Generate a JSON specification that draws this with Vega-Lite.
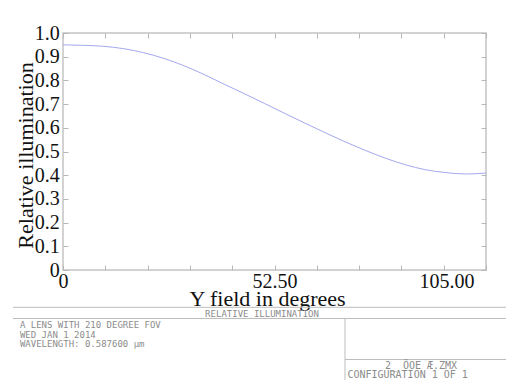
{
  "$schema": "https://vega.github.io/schema/vega-lite/v6.json",
  "autosize": "none",
  "width": 423,
  "height": 237,
  "padding": {"left": 63, "top": 33, "right": 20, "bottom": 110},
  "background": "white",
  "config": {"view": {"stroke": "#c4c4c4", "strokeWidth": 1.5}},
  "datasets": {
    "curve": [
      {"deg": 0, "ri": 0.950}, {"deg": 5, "ri": 0.948}, {"deg": 10, "ri": 0.944}, {"deg": 15, "ri": 0.934},
      {"deg": 20, "ri": 0.917}, {"deg": 25, "ri": 0.893}, {"deg": 30, "ri": 0.862}, {"deg": 35, "ri": 0.825},
      {"deg": 40, "ri": 0.784}, {"deg": 45, "ri": 0.744}, {"deg": 50, "ri": 0.703}, {"deg": 55, "ri": 0.661},
      {"deg": 60, "ri": 0.620}, {"deg": 65, "ri": 0.580}, {"deg": 70, "ri": 0.541}, {"deg": 75, "ri": 0.505},
      {"deg": 80, "ri": 0.472}, {"deg": 85, "ri": 0.444}, {"deg": 90, "ri": 0.423}, {"deg": 95, "ri": 0.411},
      {"deg": 100, "ri": 0.405}, {"deg": 105, "ri": 0.409}
    ],
    "frame": [
      {"x": -12.4, "x2": 112, "y": -0.1574, "y2": -0.1574},
      {"x": -12.4, "x2": 112, "y": -0.2046, "y2": -0.2046},
      {"x": 70.0, "x2": 70.0, "y": -0.2046, "y2": -0.48},
      {"x": 70.0, "x2": 112, "y": -0.3776, "y2": -0.3776}
    ],
    "centerText": [
      {"label": "RELATIVE ILLUMINATION", "x": 49.4, "y": -0.187}
    ],
    "leftText": [
      {"label": "A LENS WITH 210 DEGREE FOV", "x": -10.7, "y": -0.2321},
      {"label": "WED JAN 1 2014", "x": -10.7, "y": -0.2722},
      {"label": "WAVELENGTH: 0.587600 µm", "x": -10.7, "y": -0.3122}
    ],
    "configText": [
      {"label": "2_   ÖOE   Æ.ZMX", "x": 79.9, "y": -0.403},
      {"label": "CONFIGURATION 1 OF 1", "x": 70.6, "y": -0.445}
    ]
  },
  "layer": [
    {
      "data": {"name": "curve"},
      "mark": {"type": "line", "interpolate": "monotone", "color": "#a3a8ee", "strokeWidth": 1},
      "encoding": {
        "x": {
          "field": "deg", "type": "quantitative",
          "scale": {"domain": [0, 105], "nice": false, "zero": false},
          "axis": {
            "orient": "bottom",
            "values": [0, 10.5, 21, 31.5, 42, 52.5, 63, 73.5, 84, 94.5, 105],
            "labelExpr": "datum.value == 0 ? '0' : datum.value == 52.5 ? '52.50' : datum.value == 105 ? '105.00' : ''",
            "labelFont": "Liberation Serif", "labelFontSize": 20, "labelColor": "#111111",
            "labelAlign": {"condition": {"test": "datum.value == 105", "value": "right"}, "value": "center"},
            "labelOffset": {"condition": {"test": "datum.value == 105", "value": -12}, "value": 0},
            "labelPadding": 6, "labelBaseline": "top", "labelFlush": false, "labelOverlap": false,
            "tickSize": -5, "tickColor": "#b8b8b8", "domain": false, "grid": false,
            "title": "Y field in degrees", "titleFont": "Liberation Serif", "titleFontSize": 22,
            "titleFontWeight": "normal", "titleColor": "#111111",
            "titleX": 204, "titleY": 35.5, "titleBaseline": "alphabetic", "titleAlign": "center"
          }
        },
        "y": {
          "field": "ri", "type": "quantitative",
          "scale": {"domain": [0, 1], "nice": false, "zero": false},
          "axis": {
            "orient": "left",
            "values": [0, 0.1, 0.2, 0.3, 0.4, 0.5, 0.6, 0.7, 0.8, 0.9, 1.0],
            "labelExpr": "datum.value == 0 ? '0' : format(datum.value, '.1f')",
            "labelFont": "Liberation Serif", "labelFontSize": 20, "labelColor": "#111111",
            "labelPadding": 8.7, "labelFlush": false, "labelOverlap": false, "labelBaseline": "middle",
            "tickSize": -5, "tickColor": "#b8b8b8", "domain": false, "grid": false,
            "title": "Relative illumination", "titleFont": "Liberation Serif", "titleFontSize": 22,
            "titleFontWeight": "normal", "titleColor": "#111111", "titleAngle": -90,
            "titleX": -31, "titleY": 122, "titleBaseline": "alphabetic", "titleAlign": "center"
          }
        }
      }
    },
    {
      "data": {"name": "frame"},
      "mark": {"type": "rule", "color": "#bdbdbd", "strokeWidth": 1},
      "encoding": {
        "x": {
          "field": "x", "type": "quantitative",
          "scale": {"domain": [0, 105], "nice": false, "zero": false},
          "axis": {
            "orient": "top", "values": [0, 10.5, 21, 31.5, 42, 52.5, 63, 73.5, 84, 94.5, 105],
            "labels": false, "tickSize": -5, "tickColor": "#b8b8b8", "domain": false, "grid": false, "title": null
          }
        },
        "x2": {"field": "x2"},
        "y": {
          "field": "y", "type": "quantitative",
          "scale": {"domain": [0, 1], "nice": false, "zero": false},
          "axis": {
            "orient": "right", "values": [0, 0.1, 0.2, 0.3, 0.4, 0.5, 0.6, 0.7, 0.8, 0.9, 1.0],
            "labels": false, "tickSize": -5, "tickColor": "#b8b8b8", "domain": false, "grid": false, "title": null
          }
        },
        "y2": {"field": "y2"}
      }
    },
    {
      "data": {"name": "centerText"},
      "mark": {"type": "text", "font": "DejaVu Sans Mono", "fontSize": 9, "color": "#8c8c8c", "align": "center", "baseline": "middle"},
      "encoding": {
        "x": {"field": "x", "type": "quantitative", "axis": null},
        "y": {"field": "y", "type": "quantitative", "axis": null},
        "text": {"field": "label"}
      }
    },
    {
      "data": {"name": "leftText"},
      "mark": {"type": "text", "font": "DejaVu Sans Mono", "fontSize": 9, "color": "#8c8c8c", "align": "left", "baseline": "middle"},
      "encoding": {
        "x": {"field": "x", "type": "quantitative", "axis": null},
        "y": {"field": "y", "type": "quantitative", "axis": null},
        "text": {"field": "label"}
      }
    },
    {
      "data": {"name": "configText"},
      "mark": {"type": "text", "font": "DejaVu Sans Mono", "fontSize": 10, "color": "#8c8c8c", "align": "left", "baseline": "middle"},
      "encoding": {
        "x": {"field": "x", "type": "quantitative", "axis": null},
        "y": {"field": "y", "type": "quantitative", "axis": null},
        "text": {"field": "label"}
      }
    }
  ],
  "resolve": {"axis": {"x": "independent", "y": "independent"}}
}
